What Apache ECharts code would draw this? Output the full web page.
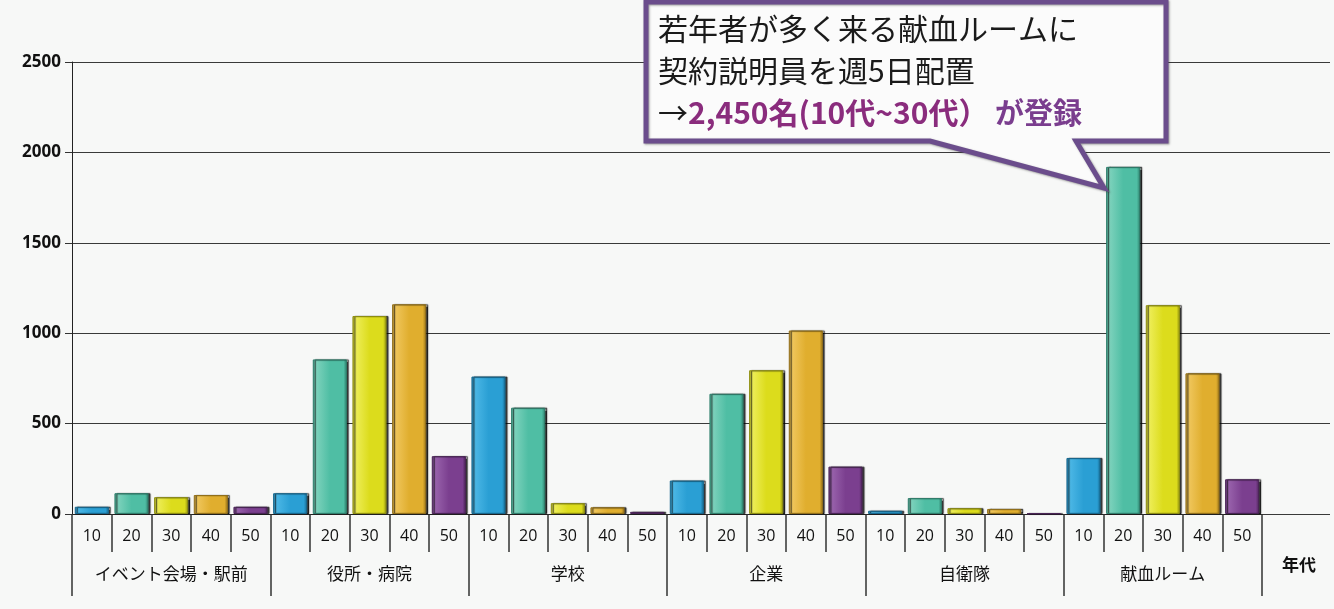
<!DOCTYPE html>
<html>
<head>
<meta charset="utf-8">
<script src="https://cdn.jsdelivr.net/npm/echarts@6/dist/echarts.min.js"></script>
<style>
html,body{margin:0;padding:0;background:#f7f8f7;}
#chart{width:1334px;height:609px;}
</style>
</head>
<body>
<div id="chart"></div>
<script>
// ---- data ----
const groups = ['イベント会場・駅前', '役所・病院', '学校', '企業', '自衛隊', '献血ルーム'];
const ages = ['10', '20', '30', '40', '50'];
const age10 = [40, 115, 760, 185, 18, 310];
const age20 = [115, 855, 588, 665, 88, 1920];
const age30 = [93, 1095, 60, 795, 32, 1155];
const age40 = [105, 1160, 37, 1015, 28, 778];
const age50 = [40, 320, 12, 262, 3, 192];
const yTicks = [0, 500, 1000, 1500, 2000, 2500];

// ---- styles ----
const ageColors = [
  ['#4db8e6', '#2a9fd4', '#17688f'],
  ['#7fd3bd', '#4fbea4', '#2f7f6c'],
  ['#eeee5a', '#dcdc1c', '#8f8f10'],
  ['#f0c75e', '#e0ae2e', '#93701a'],
  ['#9a64ad', '#7b3f8f', '#4a2357']
];
const ageSeries = [age10, age20, age30, age40, age50];

const categories = [];
const barData = [];
groups.forEach((g, gi) => {
  ages.forEach((a, ai) => {
    categories.push(a);
    const c = ageColors[ai];
    barData.push({
      value: ageSeries[ai][gi],
      itemStyle: {
        color: new echarts.graphic.LinearGradient(0, 0, 1, 0, [
          {offset: 0, color: c[2]},
          {offset: 0.08, color: c[0]},
          {offset: 0.5, color: c[1]},
          {offset: 0.9, color: c[1]},
          {offset: 1, color: c[2]}
        ]),
        borderColor: c[2],
        borderWidth: 1,
        shadowColor: 'rgba(0,0,0,0.75)',
        shadowOffsetX: 2,
        shadowOffsetY: 0,
        shadowBlur: 1
      }
    });
  });
});

const chart = echarts.init(document.getElementById('chart'));
const GRID_TOP = 62, GRID_BOTTOM = 95;
chart.setOption({
  backgroundColor: '#f7f8f7',
  animation: false,
  grid: [
    {left: 72, right: 72, top: GRID_TOP, bottom: GRID_BOTTOM},
    {left: 72, right: 4, top: GRID_TOP, bottom: GRID_BOTTOM}
  ],
  xAxis: [
    {
      type: 'category', gridIndex: 0, data: categories,
      axisLine: {show: true, lineStyle: {color: '#222', width: 1}},
      axisTick: {show: true, interval: 0, length: 38, lineStyle: {color: '#333', width: 1.5}},
      axisLabel: {interval: 0, margin: 14, color: '#111', fontSize: 16, fontFamily: 'Open Sans'},
      name: '年代', nameLocation: 'end', nameGap: 20,
      nameTextStyle: {color: '#111', fontSize: 17, fontWeight: 'bold', fontFamily: 'Noto Sans CJK JP', verticalAlign: 'top', padding: [42, 0, 0, 0]}
    },
    {
      type: 'category', gridIndex: 0, data: groups, position: 'bottom',
      axisLine: {show: false},
      axisTick: {show: true, interval: 0, length: 82, lineStyle: {color: '#333', width: 1.5}},
      axisLabel: {interval: 0, margin: 51, color: '#111', fontSize: 17, fontFamily: 'Noto Sans CJK JP'}
    },
    {type: 'value', gridIndex: 1, show: false, min: 0, max: 1}
  ],
  yAxis: [
    {
      type: 'value', gridIndex: 0, min: yTicks[0], max: yTicks[yTicks.length - 1], interval: 500,
      axisLine: {show: true, lineStyle: {color: '#222', width: 1}},
      axisTick: {show: true, length: 7, lineStyle: {color: '#333'}},
      axisLabel: {color: '#111', fontSize: 17, fontWeight: 'bold', fontFamily: 'Open Sans', margin: 11,
        formatter: v => String(v)},
      splitLine: {show: false}
    },
    {
      type: 'value', gridIndex: 1, min: yTicks[0], max: yTicks[yTicks.length - 1], interval: 500,
      axisLine: {show: false}, axisTick: {show: false}, axisLabel: {show: false},
      splitLine: {show: true, lineStyle: {color: '#3a3a3a', width: 1.2}}
    }
  ],
  series: [
    {
      type: 'bar', xAxisIndex: 0, yAxisIndex: 0, data: barData,
      barCategoryGap: '14%', z: 5
    }
  ],
  graphic: [
    {
      type: 'polygon', z: 100,
      shape: {points: [[646, 2], [1166, 2], [1166, 141], [1076, 141], [1104, 188], [930, 141], [646, 141]]},
      style: {fill: '#fbfbfb', stroke: '#6b4d8c', lineWidth: 5, lineJoin: 'miter',
        shadowColor: 'rgba(60,60,60,0.5)', shadowBlur: 2, shadowOffsetX: 1, shadowOffsetY: 1}
    },
    {
      type: 'text', z: 101, left: 658, top: 8,
      style: {
        text: '若年者が多く来る献血ルームに\n契約説明員を週5日配置\n→{p|2,450名(10代~30代）}{q| が登録}',
        fill: '#1a1a1a', fontSize: 30, lineHeight: 42,
        fontFamily: 'Noto Sans CJK JP',
        rich: {
          p: {fill: '#8a2c7d', fontSize: 30, fontWeight: 'bold', fontFamily: 'Noto Sans CJK JP', lineHeight: 42},
          q: {fill: '#7a3d8e', fontSize: 29, fontWeight: 'bold', fontFamily: 'Noto Sans CJK JP', lineHeight: 42}
        }
      }
    }
  ]
});
</script>
</body>
</html>
